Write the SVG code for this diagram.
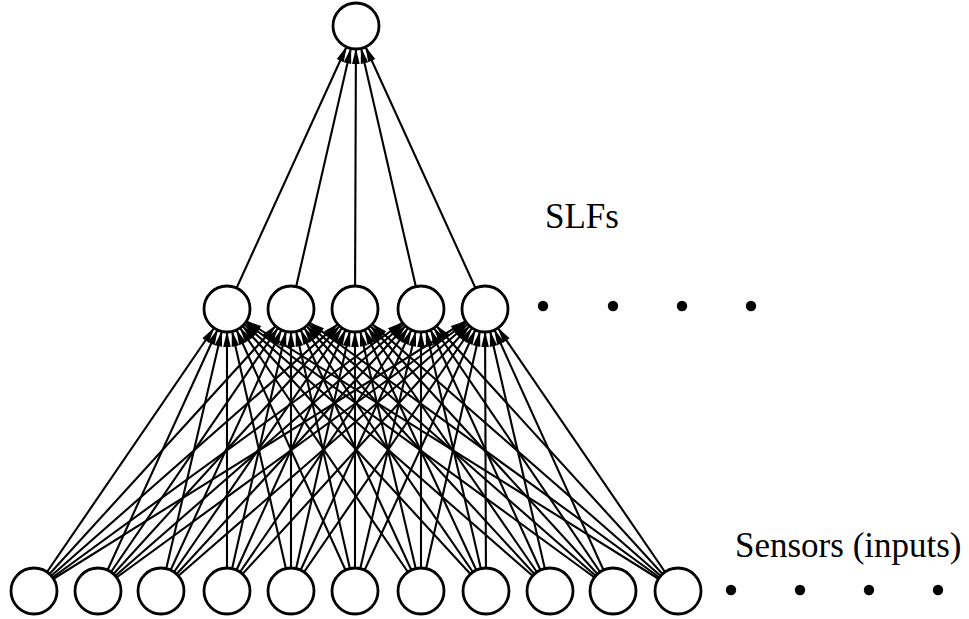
<svg xmlns="http://www.w3.org/2000/svg" width="969" height="619" viewBox="0 0 969 619">
  <style>
    .edge { stroke: #000; stroke-width: 2.1; fill: none; marker-end: url(#arrow); }
    .node { fill: #fff; stroke: #000; stroke-width: 2.8; }
    .dot { fill: #000; }
  </style>
  <defs>
    <!-- tip sits one node radius (23) short of the line's end point, which is the target centre -->
    <marker id="arrow" markerUnits="userSpaceOnUse" markerWidth="40" markerHeight="10" refX="38" refY="0" orient="auto" overflow="visible">
      <path d="M0,-3.8 L16,0 L0,3.8 z" fill="#000"/>
    </marker>
  </defs>
  <rect width="969" height="619" fill="#fff"/>

  <g id="connectors">
    <!-- hidden layer to output -->
    <line class="edge" x1="227" y1="309" x2="356" y2="26"/>
    <line class="edge" x1="291" y1="309" x2="356" y2="26"/>
    <line class="edge" x1="355" y1="309" x2="356" y2="26"/>
    <line class="edge" x1="421" y1="309" x2="356" y2="26"/>
    <line class="edge" x1="485" y1="309" x2="356" y2="26"/>
    <!-- sensors to hidden layer: every sensor feeds every SLF -->
    <line class="edge" x1="34" y1="591" x2="227" y2="309"/>
    <line class="edge" x1="34" y1="591" x2="291" y2="309"/>
    <line class="edge" x1="34" y1="591" x2="355" y2="309"/>
    <line class="edge" x1="34" y1="591" x2="421" y2="309"/>
    <line class="edge" x1="34" y1="591" x2="485" y2="309"/>
    <line class="edge" x1="98" y1="591" x2="227" y2="309"/>
    <line class="edge" x1="98" y1="591" x2="291" y2="309"/>
    <line class="edge" x1="98" y1="591" x2="355" y2="309"/>
    <line class="edge" x1="98" y1="591" x2="421" y2="309"/>
    <line class="edge" x1="98" y1="591" x2="485" y2="309"/>
    <line class="edge" x1="161" y1="591" x2="227" y2="309"/>
    <line class="edge" x1="161" y1="591" x2="291" y2="309"/>
    <line class="edge" x1="161" y1="591" x2="355" y2="309"/>
    <line class="edge" x1="161" y1="591" x2="421" y2="309"/>
    <line class="edge" x1="161" y1="591" x2="485" y2="309"/>
    <line class="edge" x1="227" y1="591" x2="227" y2="309"/>
    <line class="edge" x1="227" y1="591" x2="291" y2="309"/>
    <line class="edge" x1="227" y1="591" x2="355" y2="309"/>
    <line class="edge" x1="227" y1="591" x2="421" y2="309"/>
    <line class="edge" x1="227" y1="591" x2="485" y2="309"/>
    <line class="edge" x1="291" y1="591" x2="227" y2="309"/>
    <line class="edge" x1="291" y1="591" x2="291" y2="309"/>
    <line class="edge" x1="291" y1="591" x2="355" y2="309"/>
    <line class="edge" x1="291" y1="591" x2="421" y2="309"/>
    <line class="edge" x1="291" y1="591" x2="485" y2="309"/>
    <line class="edge" x1="355" y1="591" x2="227" y2="309"/>
    <line class="edge" x1="355" y1="591" x2="291" y2="309"/>
    <line class="edge" x1="355" y1="591" x2="355" y2="309"/>
    <line class="edge" x1="355" y1="591" x2="421" y2="309"/>
    <line class="edge" x1="355" y1="591" x2="485" y2="309"/>
    <line class="edge" x1="421" y1="591" x2="227" y2="309"/>
    <line class="edge" x1="421" y1="591" x2="291" y2="309"/>
    <line class="edge" x1="421" y1="591" x2="355" y2="309"/>
    <line class="edge" x1="421" y1="591" x2="421" y2="309"/>
    <line class="edge" x1="421" y1="591" x2="485" y2="309"/>
    <line class="edge" x1="486" y1="591" x2="227" y2="309"/>
    <line class="edge" x1="486" y1="591" x2="291" y2="309"/>
    <line class="edge" x1="486" y1="591" x2="355" y2="309"/>
    <line class="edge" x1="486" y1="591" x2="421" y2="309"/>
    <line class="edge" x1="486" y1="591" x2="485" y2="309"/>
    <line class="edge" x1="550" y1="591" x2="227" y2="309"/>
    <line class="edge" x1="550" y1="591" x2="291" y2="309"/>
    <line class="edge" x1="550" y1="591" x2="355" y2="309"/>
    <line class="edge" x1="550" y1="591" x2="421" y2="309"/>
    <line class="edge" x1="550" y1="591" x2="485" y2="309"/>
    <line class="edge" x1="613" y1="591" x2="227" y2="309"/>
    <line class="edge" x1="613" y1="591" x2="291" y2="309"/>
    <line class="edge" x1="613" y1="591" x2="355" y2="309"/>
    <line class="edge" x1="613" y1="591" x2="421" y2="309"/>
    <line class="edge" x1="613" y1="591" x2="485" y2="309"/>
    <line class="edge" x1="678" y1="591" x2="227" y2="309"/>
    <line class="edge" x1="678" y1="591" x2="291" y2="309"/>
    <line class="edge" x1="678" y1="591" x2="355" y2="309"/>
    <line class="edge" x1="678" y1="591" x2="421" y2="309"/>
    <line class="edge" x1="678" y1="591" x2="485" y2="309"/>
  </g>

  <!-- output node -->
  <g id="out"><circle class="node" cx="356" cy="26" r="23"/></g>

  <!-- SLF (hidden) nodes -->
  <g id="slf1"><circle class="node" cx="227" cy="309" r="23"/></g>
  <g id="slf2"><circle class="node" cx="291" cy="309" r="23"/></g>
  <g id="slf3"><circle class="node" cx="355" cy="309" r="23"/></g>
  <g id="slf4"><circle class="node" cx="421" cy="309" r="23"/></g>
  <g id="slf5"><circle class="node" cx="485" cy="309" r="23"/></g>

  <!-- sensor (input) nodes -->
  <g id="s1"><circle class="node" cx="34" cy="591" r="23"/></g>
  <g id="s2"><circle class="node" cx="98" cy="591" r="23"/></g>
  <g id="s3"><circle class="node" cx="161" cy="591" r="23"/></g>
  <g id="s4"><circle class="node" cx="227" cy="591" r="23"/></g>
  <g id="s5"><circle class="node" cx="291" cy="591" r="23"/></g>
  <g id="s6"><circle class="node" cx="355" cy="591" r="23"/></g>
  <g id="s7"><circle class="node" cx="421" cy="591" r="23"/></g>
  <g id="s8"><circle class="node" cx="486" cy="591" r="23"/></g>
  <g id="s9"><circle class="node" cx="550" cy="591" r="23"/></g>
  <g id="s10"><circle class="node" cx="613" cy="591" r="23"/></g>
  <g id="s11"><circle class="node" cx="678" cy="591" r="23"/></g>

  <!-- continuation dots -->
  <g id="slf-more">
    <circle class="dot" cx="543" cy="306" r="5.2"/>
    <circle class="dot" cx="613" cy="306" r="5.2"/>
    <circle class="dot" cx="682" cy="306" r="5.2"/>
    <circle class="dot" cx="751" cy="306" r="5.2"/>
  </g>
  <g id="sensor-more">
    <circle class="dot" cx="731" cy="590" r="5.2"/>
    <circle class="dot" cx="800" cy="590" r="5.2"/>
    <circle class="dot" cx="869" cy="590" r="5.2"/>
    <circle class="dot" cx="938" cy="590" r="5.2"/>
  </g>

  <g id="labels" font-family="'Liberation Serif', 'Times New Roman', serif" font-size="35" fill="#000">
    <text x="545" y="228">SLFs</text>
    <text x="735" y="557">Sensors (inputs)</text>
  </g>
</svg>
